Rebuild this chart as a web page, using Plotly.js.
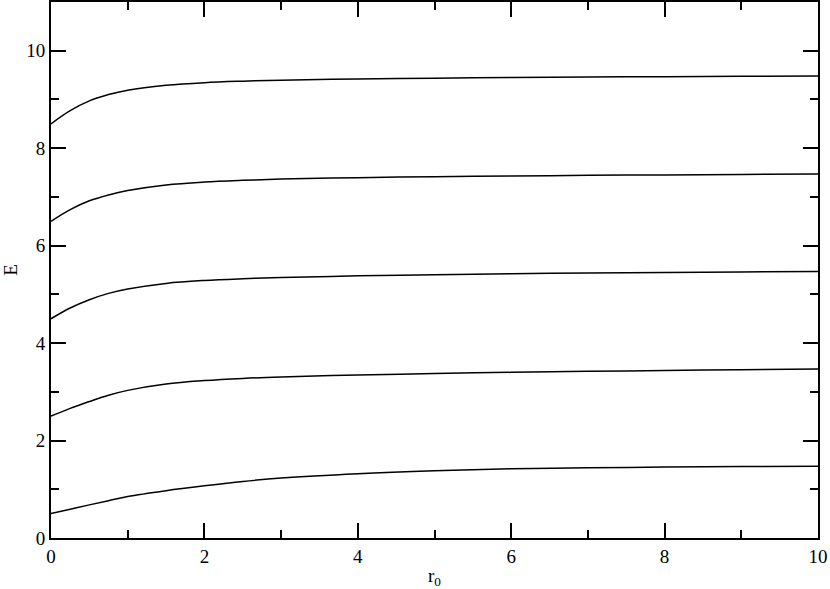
<!DOCTYPE html>
<html>
<head>
<meta charset="utf-8">
<script src="https://cdn.plot.ly/plotly-3.0.1.min.js"></script>
<style>html,body{margin:0;padding:0;background:#fff;}#chart{width:830px;height:589px;}</style>
</head>
<body>
<div id="chart"></div>
<script>
const r0 = [0, 0.25, 0.5, 0.75, 1, 1.5, 2, 2.5, 3, 4, 5, 6, 7, 8, 9, 10];
const level1 = [0.50, 0.59, 0.68, 0.765, 0.85, 0.97, 1.07, 1.16, 1.23, 1.32, 1.38, 1.42, 1.44, 1.455, 1.465, 1.47];
const level2 = [2.50, 2.66, 2.80, 2.93, 3.03, 3.16, 3.23, 3.275, 3.305, 3.345, 3.375, 3.40, 3.42, 3.438, 3.455, 3.47];
const level3 = [4.50, 4.72, 4.89, 5.02, 5.11, 5.225, 5.285, 5.32, 5.345, 5.38, 5.405, 5.423, 5.438, 5.45, 5.46, 5.47];
const level4 = [6.50, 6.74, 6.92, 7.04, 7.13, 7.245, 7.305, 7.34, 7.365, 7.395, 7.415, 7.43, 7.442, 7.452, 7.461, 7.47];
const level5 = [8.50, 8.77, 8.97, 9.10, 9.19, 9.29, 9.345, 9.375, 9.395, 9.42, 9.437, 9.45, 9.46, 9.468, 9.475, 9.48];
const levels = [level1, level2, level3, level4, level5];

const traces = levels.map(v => ({
  x: r0, y: v, type: 'scatter', mode: 'lines',
  line: {color: '#000', width: 1.5, shape: 'spline', smoothing: 1},
  hoverinfo: 'skip', showlegend: false
}));

const font = {family: 'Liberation Serif, Times New Roman, Times, serif', size: 19, color: '#000'};
const axisCommon = {
  showline: true, linecolor: '#000', linewidth: 2, mirror: 'ticks',
  ticks: 'inside', ticklen: 15, tickwidth: 2, tickcolor: '#000',
  showgrid: false, zeroline: false, tickfont: font,
  minor: {ticks: 'inside', ticklen: 8, tickwidth: 2, tickcolor: '#000', dtick: 1, showgrid: false}
};

const layout = {
  width: 830, height: 589,
  margin: {l: 51, r: 12, t: 2, b: 51},
  paper_bgcolor: '#fff', plot_bgcolor: '#fff',
  font: font,
  xaxis: Object.assign({}, axisCommon, {
    range: [0, 10], dtick: 2, tick0: 0,
    title: {text: 'r<sub>0</sub>', font: font, standoff: 6}
  }),
  yaxis: Object.assign({}, axisCommon, {
    range: [0, 11], dtick: 2, tick0: 0,
    title: {text: 'E', font: font, standoff: 10}
  })
};

Plotly.newPlot('chart', traces, layout, {staticPlot: true, displayModeBar: false});
</script>
</body>
</html>
